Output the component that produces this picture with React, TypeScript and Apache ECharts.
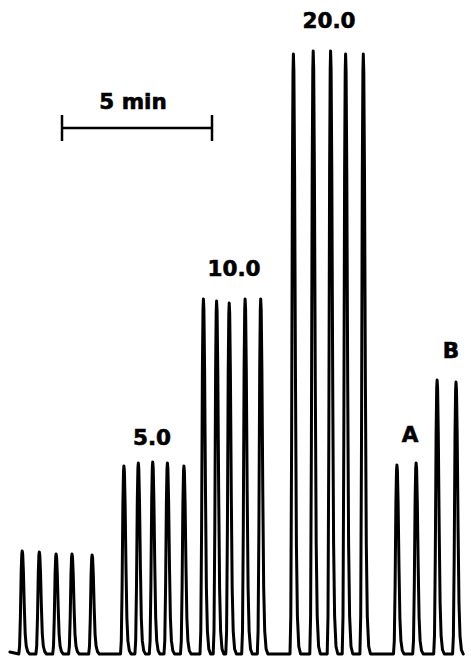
import React, { useEffect, useRef } from "react";
import * as echarts from "echarts";

// Peak apex times (min) and peak heights (signal units)
const groupLabels = ["", "5.0", "10.0", "20.0", "A", "B"];
const blankTimes = [0.74, 1.31, 1.87, 2.4, 3.07];
const blankHeights = [101, 100, 98, 98, 97];
const std5Times = [4.13, 4.61, 5.09, 5.58, 6.13];
const std5Heights = [186, 189, 190, 189, 186];
const std10Times = [6.78, 7.22, 7.64, 8.17, 8.69];
const std10Heights = [353, 351, 349, 353, 353];
const std20Times = [9.78, 10.44, 11.02, 11.52, 12.11];
const std20Heights = [598, 601, 601, 598, 598];
const sampleATimes = [13.23, 13.87];
const sampleAHeights = [187, 189];
const sampleBTimes = [14.57, 15.2];
const sampleBHeights = [272, 270];
const traceStart = 0.33;
const traceEnd = 15.7;
const scaleBarMinutes = 5;

const PX_PER_MIN = 30;
// peak shape template: [dx in px, fraction of height, absolute offset]
const shape: [number, number, number][] = [
  [-3.4, 0, -2],
  [-2.6, 0.06, 0],
  [-1.8, 0.35, 0],
  [-1.0, 0.8, 0],
  [-0.4, 0.97, 0],
  [0, 1, 0],
  [0.5, 0.97, 0],
  [1.2, 0.8, 0],
  [2.1, 0.45, 0],
  [3.0, 0.18, 0],
  [4.0, 0.06, 0],
  [5.4, 0.01, -0.5],
  [7.2, 0, -2],
];

function buildTrace(): [number, number][] {
  const times = [
    ...blankTimes,
    ...std5Times,
    ...std10Times,
    ...std20Times,
    ...sampleATimes,
    ...sampleBTimes,
  ];
  const heights = [
    ...blankHeights,
    ...std5Heights,
    ...std10Heights,
    ...std20Heights,
    ...sampleAHeights,
    ...sampleBHeights,
  ];
  const pts: [number, number][] = [[traceStart, 0]];
  times.forEach((t, i) => {
    const h = heights[i];
    shape.forEach(([dx, f, a]) => {
      const x = t + dx / PX_PER_MIN;
      if (x <= traceEnd) pts.push([x, f * h + a]);
    });
  });
  return pts;
}

export default function App() {
  const ref = useRef<HTMLDivElement>(null);
  useEffect(() => {
    if (!ref.current) return;
    const chart = echarts.init(ref.current, null, { renderer: "svg" });
    const font = {
      fontFamily: "DejaVu Sans",
      fontWeight: "bold" as const,
      fontSize: 21.5,
      fill: "#000",
      stroke: "#000",
      lineWidth: 0.6,
      align: "center" as const,
      verticalAlign: "middle" as const,
    };
    const labelPos: [number, number][] = [
      [0, 0],
      [152, 437],
      [234, 268],
      [329, 20],
      [410, 434],
      [451, 350],
    ];
    const labelGraphics = groupLabels
      .map((txt, i) =>
        txt
          ? {
              type: "text",
              x: labelPos[i][0],
              y: labelPos[i][1],
              style: { ...font, text: txt },
            }
          : null
      )
      .filter(Boolean);
    const barX0 = 62;
    const barX1 = barX0 + scaleBarMinutes * PX_PER_MIN;
    chart.setOption({
      animation: false,
      backgroundColor: "#fff",
      grid: { left: 0, right: 0, top: 0, bottom: 0 },
      xAxis: {
        type: "value",
        min: 0,
        max: 15.7,
        show: false,
      },
      yAxis: {
        type: "value",
        min: -9,
        max: 652,
        show: false,
      },
      series: [
        {
          type: "line",
          data: buildTrace(),
          showSymbol: false,
          smooth: false,
          lineStyle: { color: "#000", width: 3, join: "round", cap: "round" },
        },
      ],
      graphic: [
        {
          type: "text",
          x: 133,
          y: 101,
          style: { ...font, text: `${scaleBarMinutes} min` },
        },
        {
          type: "line",
          shape: { x1: barX0, y1: 128, x2: barX1, y2: 128 },
          style: { stroke: "#000", lineWidth: 2.5 },
        },
        {
          type: "line",
          shape: { x1: barX0, y1: 115, x2: barX0, y2: 141 },
          style: { stroke: "#000", lineWidth: 2.5 },
        },
        {
          type: "line",
          shape: { x1: barX1, y1: 115, x2: barX1, y2: 141 },
          style: { stroke: "#000", lineWidth: 2.5 },
        },
        ...labelGraphics,
      ],
    });
    return () => chart.dispose();
  }, []);
  return (
    <div
      ref={ref}
      style={{ position: "fixed", left: 0, top: 0, width: 471, height: 661 }}
    />
  );
}
